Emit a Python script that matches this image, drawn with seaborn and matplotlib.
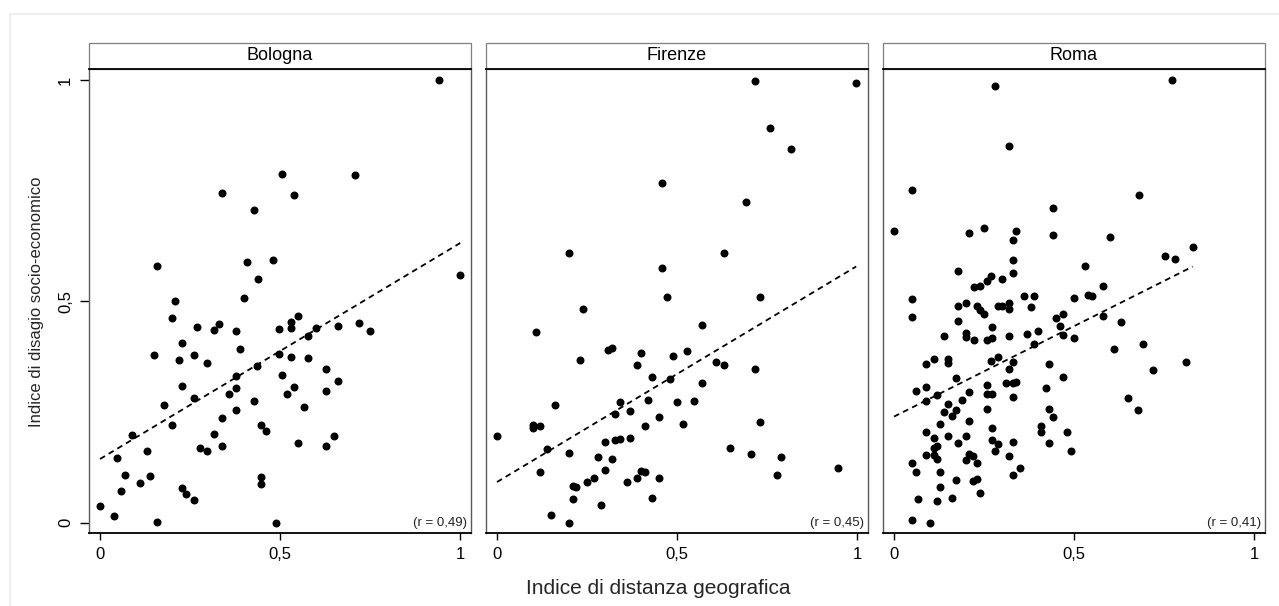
import numpy as np
import pandas as pd
import matplotlib
matplotlib.use("Agg")
import matplotlib.pyplot as plt
from matplotlib.patches import Rectangle
from matplotlib.lines import Line2D
import seaborn as sns

# ---------------- data ----------------
cities = ["Bologna", "Firenze", "Roma"]
r_labels = ["(r = 0,49)", "(r = 0,45)", "(r = 0,41)"]
tick_values = [0, 0.5, 1]
tick_labels = ["0", "0,5", "1"]
x_label = "Indice di distanza geografica"
y_label = "Indice di disagio socio-economico"

bologna_x = [0.000, 0.039, 0.047, 0.058, 0.069, 0.089, 0.111, 0.131, 0.139, 0.150,
             0.158, 0.158, 0.178, 0.200, 0.200, 0.208, 0.219, 0.228, 0.228, 0.228,
             0.239, 0.261, 0.261, 0.261, 0.269, 0.278, 0.297, 0.297, 0.317, 0.317,
             0.331, 0.339, 0.339, 0.339, 0.358, 0.378, 0.378, 0.378, 0.378, 0.389,
             0.400, 0.408, 0.428, 0.428, 0.436, 0.439, 0.447, 0.447, 0.447, 0.461,
             0.481, 0.489, 0.497, 0.497, 0.506, 0.506, 0.519, 0.531, 0.531, 0.531,
             0.539, 0.539, 0.550, 0.550, 0.567, 0.578, 0.578, 0.600, 0.628, 0.628,
             0.628, 0.650, 0.661, 0.661, 0.708, 0.719, 0.750, 0.942, 1.000]
bologna_y = [0.038, 0.016, 0.147, 0.072, 0.108, 0.199, 0.090, 0.163, 0.106, 0.379,
             0.580, 0.002, 0.266, 0.221, 0.463, 0.501, 0.368, 0.406, 0.309, 0.079,
             0.065, 0.379, 0.282, 0.052, 0.442, 0.169, 0.361, 0.163, 0.436, 0.201,
             0.449, 0.745, 0.237, 0.174, 0.291, 0.433, 0.332, 0.305, 0.255, 0.393,
             0.508, 0.589, 0.707, 0.275, 0.354, 0.551, 0.221, 0.104, 0.088, 0.208,
             0.594, 0.000, 0.438, 0.381, 0.788, 0.334, 0.291, 0.454, 0.440, 0.375,
             0.740, 0.307, 0.467, 0.181, 0.262, 0.422, 0.372, 0.440, 0.348, 0.298,
             0.174, 0.196, 0.445, 0.321, 0.786, 0.451, 0.433, 1.000, 0.560]

firenze_x = [0.717, 0.997, 0.759, 0.817, 0.457, 0.690, 0.199, 0.629, 0.457, 0.471,
             0.729, 0.238, 0.108, 0.307, 0.319, 0.399, 0.230, 0.488, 0.388, 0.429,
             0.479, 0.568, 0.526, 0.609, 0.629, 0.717, 0.568, 0.161, 0.341, 0.418,
             0.499, 0.548, 0.327, 0.368, 0.449, 0.515, 0.729, 0.100, 0.100, 0.119,
             0.410, 0.000, 0.299, 0.327, 0.341, 0.368, 0.139, 0.199, 0.280, 0.319,
             0.648, 0.706, 0.787, 0.119, 0.299, 0.399, 0.410, 0.269, 0.449, 0.249,
             0.211, 0.219, 0.360, 0.388, 0.778, 0.947, 0.211, 0.429, 0.288, 0.150,
             0.199]
firenze_y = [0.998, 0.993, 0.892, 0.844, 0.767, 0.725, 0.609, 0.609, 0.576, 0.510,
             0.510, 0.483, 0.431, 0.391, 0.395, 0.384, 0.368, 0.377, 0.357, 0.330,
             0.325, 0.447, 0.388, 0.363, 0.357, 0.348, 0.316, 0.266, 0.273, 0.278,
             0.273, 0.275, 0.246, 0.253, 0.239, 0.223, 0.228, 0.221, 0.214, 0.219,
             0.219, 0.196, 0.183, 0.187, 0.190, 0.192, 0.167, 0.158, 0.149, 0.144,
             0.169, 0.156, 0.149, 0.115, 0.120, 0.117, 0.115, 0.102, 0.102, 0.093,
             0.084, 0.081, 0.093, 0.102, 0.108, 0.124, 0.054, 0.056, 0.041, 0.018,
             0.000]

roma_x = [0.279, 0.318, 0.049, 0.440, 0.000, 0.207, 0.249, 0.338, 0.329, 0.440,
          0.329, 0.179, 0.329, 0.268, 0.257, 0.299, 0.221, 0.240, 0.049, 0.360,
          0.388, 0.499, 0.049, 0.179, 0.199, 0.229, 0.240, 0.249, 0.290, 0.299,
          0.318, 0.318, 0.379, 0.179, 0.449, 0.468, 0.460, 0.271, 0.138, 0.199,
          0.199, 0.221, 0.257, 0.271, 0.318, 0.368, 0.399, 0.468, 0.499, 0.388,
          0.290, 0.268, 0.329, 0.318, 0.090, 0.110, 0.149, 0.149, 0.429, 0.171,
          0.468, 0.310, 0.329, 0.338, 0.257, 0.060, 0.090, 0.421, 0.207, 0.257,
          0.271, 0.118, 0.329, 0.090, 0.188, 0.149, 0.138, 0.171, 0.160, 0.257,
          0.429, 0.440, 0.129, 0.207, 0.407, 0.407, 0.271, 0.090, 0.110, 0.149,
          0.199, 0.179, 0.271, 0.290, 0.329, 0.429, 0.479, 0.118, 0.110, 0.279,
          0.490, 0.090, 0.110, 0.118, 0.207, 0.218, 0.199, 0.229, 0.318, 0.049,
          0.060, 0.129, 0.351, 0.329, 0.171, 0.229, 0.218, 0.129, 0.240, 0.068,
          0.118, 0.160, 0.049, 0.099, 0.771, 0.679, 0.599, 0.829, 0.751, 0.779,
          0.529, 0.579, 0.538, 0.549, 0.579, 0.629, 0.690, 0.610, 0.810, 0.718,
          0.649, 0.676]
roma_y = [0.986, 0.851, 0.752, 0.711, 0.659, 0.655, 0.666, 0.659, 0.639, 0.650,
          0.594, 0.569, 0.564, 0.558, 0.546, 0.551, 0.533, 0.535, 0.506, 0.512,
          0.512, 0.508, 0.465, 0.490, 0.497, 0.490, 0.481, 0.472, 0.490, 0.490,
          0.497, 0.483, 0.488, 0.456, 0.463, 0.472, 0.445, 0.442, 0.422, 0.429,
          0.420, 0.413, 0.413, 0.418, 0.422, 0.427, 0.433, 0.424, 0.418, 0.404,
          0.375, 0.366, 0.363, 0.348, 0.359, 0.370, 0.370, 0.361, 0.359, 0.327,
          0.330, 0.316, 0.316, 0.318, 0.312, 0.298, 0.307, 0.305, 0.296, 0.291,
          0.291, 0.289, 0.284, 0.275, 0.278, 0.269, 0.251, 0.255, 0.242, 0.257,
          0.257, 0.239, 0.223, 0.230, 0.219, 0.205, 0.214, 0.205, 0.192, 0.196,
          0.196, 0.181, 0.187, 0.178, 0.183, 0.181, 0.205, 0.174, 0.169, 0.163,
          0.163, 0.153, 0.153, 0.144, 0.156, 0.151, 0.142, 0.135, 0.151, 0.135,
          0.115, 0.115, 0.124, 0.108, 0.097, 0.099, 0.095, 0.081, 0.068, 0.054,
          0.050, 0.056, 0.005, 0.000, 1.000, 0.740, 0.646, 0.623, 0.603, 0.596,
          0.580, 0.535, 0.515, 0.512, 0.467, 0.454, 0.404, 0.393, 0.363, 0.345,
          0.282, 0.255]

df = pd.concat([
    pd.DataFrame({"citta": "Bologna", "dist": bologna_x, "disagio": bologna_y}),
    pd.DataFrame({"citta": "Firenze", "dist": firenze_x, "disagio": firenze_y}),
    pd.DataFrame({"citta": "Roma", "dist": roma_x, "disagio": roma_y}),
], ignore_index=True)

# ---------------- style ----------------
sns.set_theme(style="white")
plt.rcParams["font.family"] = ["Liberation Sans", "DejaVu Sans"]

W, H = 1279, 606
fig = plt.figure(figsize=(W / 100, H / 100), dpi=100)
fig.patch.set_facecolor("white")

# faint page frame
fig.add_artist(Line2D([10 / W, 10 / W], [0, 1 - 14 / H], transform=fig.transFigure,
                      color="#eceef1", lw=1.5))
fig.add_artist(Line2D([10 / W, 1], [1 - 14 / H, 1 - 14 / H], transform=fig.transFigure,
                      color="#eceef1", lw=1.5))

box_top, box_bot = 69, 533
ax_w = 382
lefts = [89, 486, 883]
ax_h_px = box_bot - box_top
strip_h = 26

for i, (city, rl) in enumerate(zip(cities, r_labels)):
    ax = fig.add_axes([lefts[i] / W, (H - box_bot) / H, ax_w / W, ax_h_px / H])
    sub = df[df["citta"] == city]
    sns.regplot(data=sub, x="dist", y="disagio", ax=ax, ci=None, truncate=True,
                scatter_kws=dict(s=33, color="black", linewidths=0, alpha=1),
                line_kws=dict(color="black", lw=1.3, linestyle=(0, (3.2, 2.4))))
    ax.set_xlim(-0.0305, 1.0297)
    ax.set_ylim(-0.0233, 1.0255)
    ax.set_xticks(tick_values)
    ax.set_xticklabels(tick_labels, fontsize=12)
    ax.tick_params(axis="x", direction="out", length=5, width=1, pad=5,
                   bottom=True, colors="black")
    if i == 0:
        ax.set_yticks(tick_values)
        ax.set_yticklabels(tick_labels, fontsize=12, rotation=90, va="center")
        ax.tick_params(axis="y", direction="out", length=6.5, width=1, pad=5,
                       left=True, colors="black")
    else:
        ax.set_yticks([])
    ax.set_xlabel("")
    ax.set_ylabel("")
    for side in ["top", "bottom"]:
        ax.spines[side].set_color("black")
        ax.spines[side].set_linewidth(1.3)
    for side in ["left", "right"]:
        ax.spines[side].set_color("#5a5a5a")
        ax.spines[side].set_linewidth(1.0)

    # strip with the city name
    ax.add_patch(Rectangle((0, 1), 1, strip_h / ax_h_px, transform=ax.transAxes,
                           clip_on=False, facecolor="white", edgecolor="#7f7f7f",
                           lw=0.9, zorder=0))
    ax.text(0.5, 1 + (strip_h / 2) / ax_h_px, city, transform=ax.transAxes,
            ha="center", va="center", fontsize=13, color="black")

    # correlation label
    ax.text(1 - 4 / ax_w, 0.0, rl, transform=ax.get_yaxis_transform(),
            ha="right", va="center", fontsize=9.5, color="#222222")

fig.text(658 / W, 1 - 589 / H, x_label, ha="center", va="center", fontsize=15)
fig.text(37 / W, 1 - 302 / H, y_label, ha="center", va="center", fontsize=12,
         rotation=90)

fig.savefig("out.png", dpi=100, facecolor="white")
